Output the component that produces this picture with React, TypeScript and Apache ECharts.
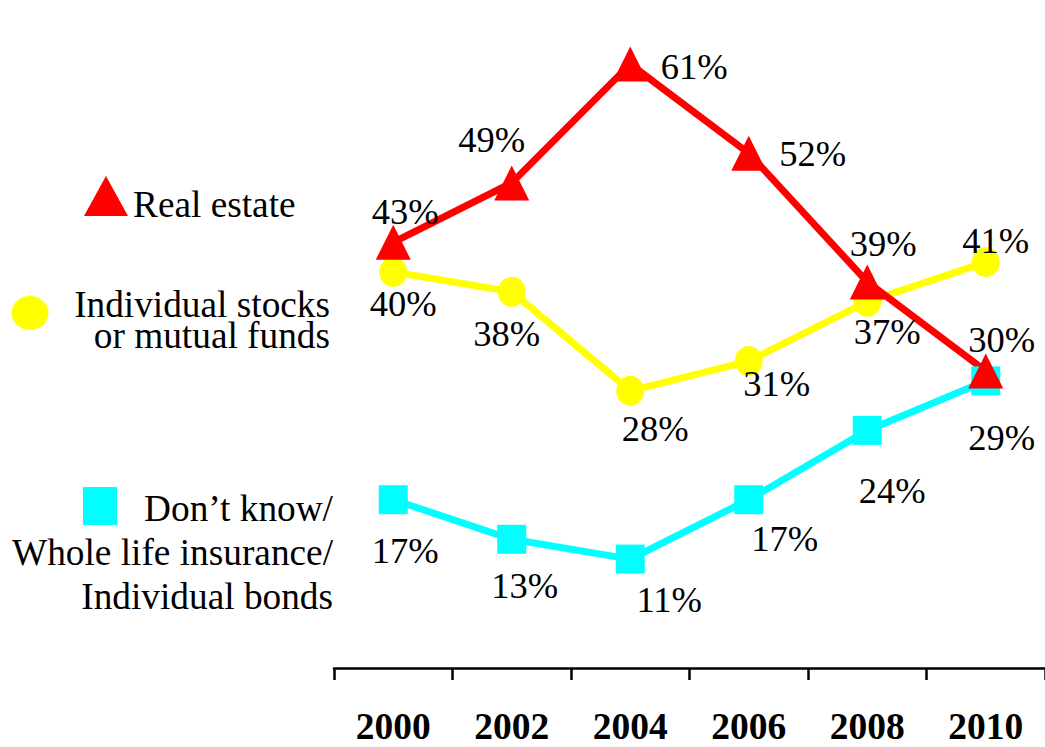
import React, { useEffect, useRef } from "react";
import * as echarts from "echarts";

const years = ["2000", "2002", "2004", "2006", "2008", "2010"];
const realEstate = [43, 49, 61, 52, 39, 30];
const stocks = [40, 38, 28, 31, 37, 41];
const dontKnow = [17, 13, 11, 17, 24, 29];

const realEstateLabelOffsets = [[12, -31], [-20, -43], [64, 2], [64, 0], [16, -38], [16, -32]];
const stocksLabelOffsets = [[10, 31], [-5, 42], [25, 38], [28, 22], [20, 30], [10, -22]];
const dontKnowLabelOffsets = [[12, 51], [13, 46], [39, 40], [36, 39], [25, 60], [16, 57]];

const FONT = "Liberation Serif";

function makeSeries(name: string, values: number[], offsets: number[][], color: string, symbol: string, size: number[]) {
  return {
    type: "line",
    name,
    data: values.map((v, i) => ({ value: v, label: { offset: offsets[i] } })),
    symbol,
    symbolSize: size,
    lineStyle: { color, width: 7 },
    itemStyle: { color },
    label: {
      show: true,
      position: "inside",
      formatter: "{c}%",
      color: "#000",
      fontFamily: FONT,
      fontSize: 36.5,
      align: "center",
      verticalAlign: "middle",
    },
  };
}

export default function App() {
  const ref = useRef<HTMLDivElement>(null);
  useEffect(() => {
    if (!ref.current) return;
    const chart = echarts.init(ref.current, null, { renderer: "svg" });
    const legendText = (x: number, y: number, text: string, align: string, lineHeight: number) => ({
      type: "text",
      x,
      y,
      style: {
        text,
        fill: "#000",
        fontFamily: FONT,
        fontSize: 37.3,
        lineHeight,
        textAlign: align,
        textVerticalAlign: "middle",
      },
    });
    chart.setOption({
      animation: false,
      backgroundColor: "#fff",
      grid: { left: 334, top: 24.5, width: 716, height: 643.5, containLabel: false },
      xAxis: {
        type: "category",
        data: years,
        boundaryGap: true,
        axisLine: { show: true, lineStyle: { color: "#000", width: 2.5 } },
        axisTick: { show: true, length: 12, lineStyle: { color: "#000", width: 2.5 } },
        axisLabel: {
          color: "#000",
          fontFamily: FONT,
          fontWeight: "bold",
          fontSize: 37.5,
          margin: 39,
        },
        splitLine: { show: false },
      },
      yAxis: { type: "value", min: 0, max: 65, show: false },
      series: [
        makeSeries("Don’t know/Whole life insurance/Individual bonds", dontKnow, dontKnowLabelOffsets, "#00FFFF", "rect", [29, 29]),
        makeSeries("Individual stocks or mutual funds", stocks, stocksLabelOffsets, "#FFFF00", "circle", [28, 30]),
        makeSeries("Real estate", realEstate, realEstateLabelOffsets, "#FF0000", "triangle", [35, 35]),
      ],
      graphic: [
        { type: "polygon", shape: { points: [[106, 176], [128, 216], [84, 216]] }, style: { fill: "#FF0000" } },
        legendText(133, 204, "Real estate", "left", 40),
        { type: "ellipse", shape: { cx: 30, cy: 313, rx: 18.5, ry: 17 }, style: { fill: "#FFFF00" } },
        legendText(330, 319.5, "Individual stocks\nor mutual funds", "right", 31),
        { type: "rect", shape: { x: 83, y: 487, width: 34, height: 38 }, style: { fill: "#00FFFF" } },
        legendText(333, 552, "Don’t know/\nWhole life insurance/\nIndividual bonds", "right", 44),
      ],
    });
    return () => chart.dispose();
  }, []);
  return <div ref={ref} style={{ position: "fixed", left: 0, top: 0, width: 1045, height: 747 }} />;
}
